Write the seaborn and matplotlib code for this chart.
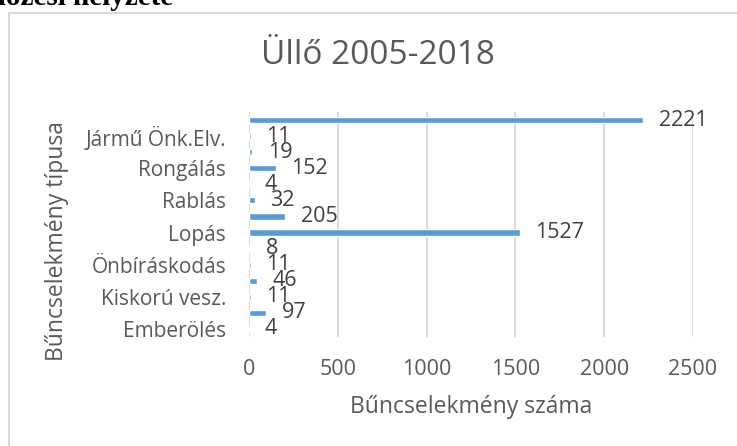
import matplotlib
matplotlib.use("Agg")
import matplotlib.pyplot as plt
from matplotlib.patches import Rectangle
import pandas as pd
import seaborn as sns

# Crime counts, listed from the top bar down
kategoria_id = ["k14", "k13", "k12", "k11", "k10", "k09", "k08",
                "k07", "k06", "k05", "k04", "k03", "k02", "k01"]
ertekek = [2221, 11, 19, 152, 4, 32, 205, 1527, 8, 11, 46, 11, 97, 4]
# Only every other category name is printed on the axis
tick_feliratok = ["", "Jármű Önk.Elv.", "", "Rongálás", "", "Rablás", "",
                  "Lopás", "", "Önbíráskodás", "", "Kiskorú vesz.", "", "Emberölés"]
x_tickek = [0, 500, 1000, 1500, 2000, 2500]

cim = "Üllő 2005-2018"
x_cim = "Bűncselekmény száma"
y_cim = "Bűncselekmény típusa"
fejlec = "Bűnözési helyzete"

sns.set_theme(style="white")
plt.rcParams["font.family"] = ["Open Sans", "DejaVu Sans"]

W, H = 737, 446
fig = plt.figure(figsize=(W / 100, H / 100), dpi=100)
ax = fig.add_axes([249 / W, 1 - 337 / H, (693 - 249) / W, (337 - 112) / H])

df = pd.DataFrame({"kat": kategoria_id, "ertek": ertekek})
sns.barplot(data=df, x="ertek", y="kat", order=kategoria_id, color="#5B9BD5",
            saturation=1, width=0.38, ax=ax)

for cont in ax.containers:
    ax.bar_label(cont, labels=[str(v) for v in ertekek], padding=11,
                 fontsize=15.5, color="#404040")

ax.set_xlim(0, 2500)
ax.set_ylim(13.5, -0.5)
ax.set_xticks(x_tickek)
ax.set_xticklabels([str(t) for t in x_tickek], fontsize=15.5, color="#595959")
ax.set_yticks(range(len(kategoria_id)))
ax.set_yticklabels(tick_feliratok, fontsize=15, color="#595959")
ax.tick_params(axis="both", length=0)
ax.tick_params(axis="y", pad=16.5)
ax.tick_params(axis="x", pad=16)
ax.xaxis.grid(True, color="#D9D9D9", linewidth=1.4)
ax.yaxis.grid(False)
ax.set_axisbelow(True)
for s in ax.spines.values():
    s.set_visible(False)
ax.set_xlabel("")
ax.set_ylabel("")

fig.text(471 / W, 1 - 407 / H, x_cim, ha="center", va="center",
         fontsize=16.5, color="#595959")
fig.text(57 / W, 1 - 241 / H, y_cim, ha="center", va="center", rotation=90,
         fontsize=16.5, color="#595959")
fig.text(378 / W, 1 - 55 / H, cim, ha="center", va="center",
         fontsize=24, color="#595959")

# Chart frame and the document heading above it
fig.patches.append(Rectangle((9 / W, -0.1), 1.2, 1 - 13 / H + 0.1,
                             transform=fig.transFigure, fill=False,
                             edgecolor="#D9D9D9", linewidth=1.4))
fig.text(173 / W, 1 - 5 / H, fejlec, ha="right", va="baseline",
         fontsize=21, fontweight="bold", color="black",
         family=["Liberation Serif", "DejaVu Serif"])

fig.savefig("out.png", dpi=100, facecolor="white")
